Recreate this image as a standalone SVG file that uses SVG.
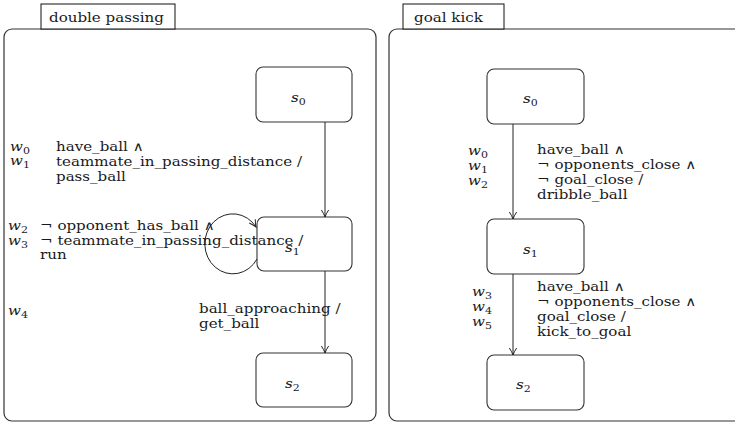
<svg xmlns="http://www.w3.org/2000/svg" width="735" height="423" viewBox="0 0 735 423">
<style>
.frame{fill:none;stroke:#333;stroke-width:1.2}
.tab{fill:#fff;stroke:#111;stroke-width:1}
.state{fill:#fff;stroke:#333;stroke-width:1.1}
.edge{fill:none;stroke:#222;stroke-width:1}
.t{font-family:"DejaVu Serif","DejaVu Sans",serif;font-size:13px;fill:#1a1a1a}
.m{font-style:italic}
.sub{font-size:9.5px;font-style:normal}
</style>
<defs>
<marker id="arr" viewBox="-8 -5 10 10" refX="0" refY="0" markerWidth="10" markerHeight="10" markerUnits="userSpaceOnUse" orient="auto">
<path d="M-7,-3.6 Q-3,-1 0,0 Q-3,1 -7,3.6" fill="none" stroke="#222" stroke-width="1"/>
</marker>
</defs>
<rect width="735" height="423" fill="#fff"/>

<g id="frame-double-passing">
<rect class="frame" x="4" y="29" width="372" height="392" rx="8"/>
<rect class="tab" x="41" y="4" width="134" height="25"/>
<text class="t" transform="translate(49,22) scale(1.16,1)">double passing</text>
</g>
<g id="frame-goal-kick">
<rect class="frame" x="389" y="29" width="360" height="392" rx="8"/>
<rect class="tab" x="403" y="4" width="101" height="25"/>
<text class="t" transform="translate(414,22) scale(1.16,1)">goal kick</text>
</g>

<g id="dp-s0"><rect class="state" x="256" y="67" width="96" height="55" rx="7"/>
<text class="t m" transform="translate(291,102) scale(1.16,1)">s<tspan class="sub" dy="3">0</tspan></text></g>
<g id="dp-s1"><rect class="state" x="257" y="217" width="95" height="54" rx="7"/>
<text class="t m" transform="translate(285,252) scale(1.16,1)">s<tspan class="sub" dy="3">1</tspan></text></g>
<g id="dp-s2"><rect class="state" x="256" y="353" width="96" height="54" rx="7"/>
<text class="t m" transform="translate(285,388) scale(1.16,1)">s<tspan class="sub" dy="3">2</tspan></text></g>

<g id="gk-s0"><rect class="state" x="487" y="69" width="97" height="55" rx="7"/>
<text class="t m" transform="translate(523,103) scale(1.16,1)">s<tspan class="sub" dy="3">0</tspan></text></g>
<g id="gk-s1"><rect class="state" x="487" y="219" width="97" height="55" rx="7"/>
<text class="t m" transform="translate(523,254) scale(1.16,1)">s<tspan class="sub" dy="3">1</tspan></text></g>
<g id="gk-s2"><rect class="state" x="487" y="355" width="97" height="55" rx="7"/>
<text class="t m" transform="translate(516,389) scale(1.16,1)">s<tspan class="sub" dy="3">2</tspan></text></g>

<g id="connectors">
<line class="edge" x1="325" y1="122" x2="325" y2="217" marker-end="url(#arr)"/>
<path class="edge" d="M257,259 A28,30 0 1 1 256,227" marker-end="url(#arr)"/>
<line class="edge" x1="325" y1="271" x2="325" y2="353" marker-end="url(#arr)"/>
<line class="edge" x1="513" y1="124" x2="513" y2="219" marker-end="url(#arr)"/>
<line class="edge" x1="513" y1="274" x2="513" y2="355" marker-end="url(#arr)"/>
</g>

<g id="labels">
<text class="t m" transform="translate(10,151) scale(1.16,1)">w<tspan class="sub" dy="3">0</tspan></text>
<text class="t m" transform="translate(10,165) scale(1.16,1)">w<tspan class="sub" dy="3">1</tspan></text>
<text class="t" transform="translate(56,151) scale(1.16,1)">have_ball ∧</text>
<text class="t" transform="translate(56,166) scale(1.16,1)">teammate_in_passing_distance /</text>
<text class="t" transform="translate(56,181) scale(1.16,1)">pass_ball</text>

<text class="t m" transform="translate(8,230) scale(1.16,1)">w<tspan class="sub" dy="3">2</tspan></text>
<text class="t m" transform="translate(8,245) scale(1.16,1)">w<tspan class="sub" dy="3">3</tspan></text>
<text class="t" transform="translate(40,230) scale(1.16,1)">¬ opponent_has_ball ∧</text>
<text class="t" transform="translate(40,245) scale(1.16,1)">¬ teammate_in_passing_distance /</text>
<text class="t" transform="translate(40,259) scale(1.16,1)">run</text>

<text class="t m" transform="translate(8,315) scale(1.16,1)">w<tspan class="sub" dy="3">4</tspan></text>
<text class="t" transform="translate(199,313) scale(1.16,1)">ball_approaching /</text>
<text class="t" transform="translate(199,328) scale(1.16,1)">get_ball</text>

<text class="t m" transform="translate(468,155) scale(1.16,1)">w<tspan class="sub" dy="3">0</tspan></text>
<text class="t m" transform="translate(468,170) scale(1.16,1)">w<tspan class="sub" dy="3">1</tspan></text>
<text class="t m" transform="translate(468,185) scale(1.16,1)">w<tspan class="sub" dy="3">2</tspan></text>
<text class="t" transform="translate(537,154) scale(1.16,1)">have_ball ∧</text>
<text class="t" transform="translate(537,169) scale(1.16,1)">¬ opponents_close ∧</text>
<text class="t" transform="translate(537,184) scale(1.16,1)">¬ goal_close /</text>
<text class="t" transform="translate(537,199) scale(1.16,1)">dribble_ball</text>

<text class="t m" transform="translate(472,296) scale(1.16,1)">w<tspan class="sub" dy="3">3</tspan></text>
<text class="t m" transform="translate(472,311) scale(1.16,1)">w<tspan class="sub" dy="3">4</tspan></text>
<text class="t m" transform="translate(472,326) scale(1.16,1)">w<tspan class="sub" dy="3">5</tspan></text>
<text class="t" transform="translate(537,291) scale(1.16,1)">have_ball ∧</text>
<text class="t" transform="translate(537,306) scale(1.16,1)">¬ opponents_close ∧</text>
<text class="t" transform="translate(537,321) scale(1.16,1)">goal_close /</text>
<text class="t" transform="translate(537,336) scale(1.16,1)">kick_to_goal</text>
</g>
</svg>
